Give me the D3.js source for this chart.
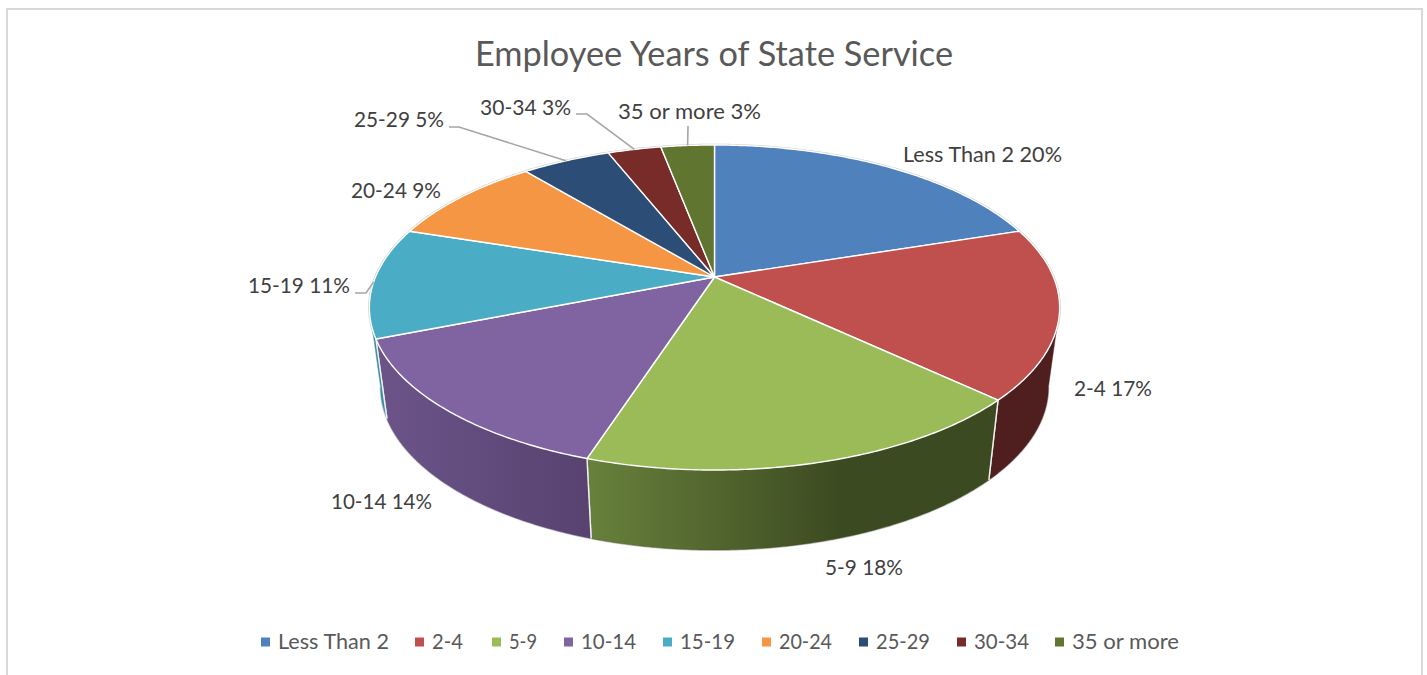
<!DOCTYPE html>
<html><head><meta charset="utf-8">
<script src="https://cdn.jsdelivr.net/npm/d3@7/dist/d3.min.js"></script>
<style>html,body{margin:0;padding:0;background:#fff;overflow:hidden}svg{display:block}text{font-family:Lato,"Open Sans",sans-serif}</style>
</head><body><svg id="c" width="1427" height="675"></svg>
<script>
// ---- data ----
const categories = ["Less Than 2","2-4","5-9","10-14","15-19","20-24","25-29","30-34","35 or more"];
const values = [20,17,18,14,11,9,5,3,3];
const title = "Employee Years of State Service";
// ---- style ----
const topColors = ["#4f81bd","#c0504d","#9bbb59","#8064a2","#4bacc6","#f49644","#2c4d75","#772c2a","#5f7530"];
const sideFrom  = ["#3a5f8c","#4e1f1e","#68813c","#6c5489","#3a8ca3","#b06c30","#20385a","#561f1e","#44551f"];
const sideTo    = ["#3a5f8c","#4e1f1e","#3c4a21","#574270","#3a8ca3","#b06c30","#20385a","#561f1e","#44551f"];
const sideStopEnd = [1,1,0.62,1,1,1,1,1,1];
// ---- layout of the texts ----
const labelPos = [[982.5,155],[1113,389],[864,568],[381.5,502],[299,286],[396,191],[399,120],[525.5,108],[689.5,112]];
const labelWidth = [159,78,78,101,102,90,90,91,143];
const legendSwatchX = [261,415,492,564,663,762,859,957,1055];
const legendWidth = [111,31,28,55,55,53,54,55,107];
const legendY = 642;
// leader elbows: [labelEndX, labelEndY, elbowX, elbowY] (null = no leader)
const leaders = [null,null,null,null,[355,293,366,293],null,[449,127,459,127],[576,114,587,114],[688,126,688,126]];

const svg = d3.select("#c");
svg.append("rect").attr("x",7).attr("y",9).attr("width",1415).attr("height",700)
  .attr("fill","#fff").attr("stroke","#d9d9d9").attr("stroke-width",2);

// perspective projection of the cylinder's two circular faces
const k = 0.1877;
function projector(cx, cy, R, S){
  return a => { const u=Math.sin(a), v=-Math.cos(a), w=1-k*v; return [cx+R*u/w, cy+S*v/w]; };
}
const topP = projector(714.5,277,339,156.8);
const botP = projector(714.5,356.4,328,157.3);
const tanR = Math.acos(-k), tanL = 2*Math.PI-tanR;

const pie = d3.pie().sort(null).value(d=>d)(values);
const line = d3.line();
const sample = (a0,a1) => { const n=Math.max(2,Math.ceil(Math.abs(a1-a0)/0.01)); return d3.range(n+1).map(i=>a0+(a1-a0)*i/n); };

const defs = svg.append("defs");

// soft rim behind the pie
const g = svg.append("g");
g.append("path").attr("d",line(sample(0,2*Math.PI).map(topP))+"Z").attr("fill","none").attr("stroke","#cfcfcf").attr("stroke-width",2.5);
g.append("path").attr("d",line(sample(tanR,tanL).map(botP))).attr("fill","none").attr("stroke","#d8d8d8").attr("stroke-width",2);

// side walls
pie.forEach((d,i)=>{
  const a0=Math.max(d.startAngle,tanR), a1=Math.min(d.endAngle,tanL);
  if(a1<=a0) return;
  const upper=sample(a0,a1).map(topP), lower=sample(a0,a1).map(botP).reverse();
  const pts=upper.concat(lower);
  const xs=pts.map(p=>p[0]);
  const id="side"+i;
  const gr=defs.append("linearGradient").attr("id",id).attr("gradientUnits","userSpaceOnUse")
    .attr("x1",d3.min(xs)).attr("x2",d3.max(xs)).attr("y1",0).attr("y2",0);
  gr.append("stop").attr("offset",0).attr("stop-color",sideFrom[i]);
  gr.append("stop").attr("offset",sideStopEnd[i]).attr("stop-color",sideTo[i]);
  g.append("path").attr("d",line(pts)+"Z").attr("fill",`url(#${id})`).attr("stroke",sideTo[i]).attr("stroke-width",0.4);
  [d.startAngle,d.endAngle].forEach(a=>{
    if(a>tanR && a<tanL) g.append("path").attr("d",line([topP(a),botP(a)])).attr("stroke","#f2f2f2").attr("stroke-width",1.4).attr("fill","none");
  });
});

// top face
pie.forEach((d,i)=>{
  const pts=[[714.5,277]].concat(sample(d.startAngle,d.endAngle).map(topP));
  g.append("path").attr("d",line(pts)+"Z").attr("fill",topColors[i]).attr("stroke","#fff").attr("stroke-width",1.4).attr("stroke-linejoin","round");
});

// leaders
pie.forEach((d,i)=>{
  const l=leaders[i]; if(!l) return;
  const end=topP((d.startAngle+d.endAngle)/2);
  g.append("path").attr("d",line([[l[0],l[1]],[l[2],l[3]],end])).attr("fill","none").attr("stroke","#a6a6a6").attr("stroke-width",1.6);
});

// labels
categories.forEach((c,i)=>{
  svg.append("text").attr("x",labelPos[i][0]).attr("y",labelPos[i][1]).attr("dy","0.35em")
    .attr("text-anchor","middle").attr("font-size",21).attr("fill","#404040")
    .attr("textLength",labelWidth[i]).attr("lengthAdjust","spacingAndGlyphs")
    .text(`${c} ${values[i]}%`);
});

// title
svg.append("text").attr("x",714).attr("y",54).attr("dy","0.35em").attr("text-anchor","middle")
  .attr("font-size",34.5).attr("fill","#595959")
  .attr("textLength",478).attr("lengthAdjust","spacingAndGlyphs").text(title);

// legend
categories.forEach((c,i)=>{
  svg.append("rect").attr("x",legendSwatchX[i]).attr("y",legendY-4.5).attr("width",9).attr("height",9).attr("fill",topColors[i]);
  svg.append("text").attr("x",legendSwatchX[i]+17).attr("y",legendY).attr("dy","0.35em")
    .attr("font-size",21).attr("fill","#595959")
    .attr("textLength",legendWidth[i]).attr("lengthAdjust","spacingAndGlyphs").text(c);
});
</script></body></html>
